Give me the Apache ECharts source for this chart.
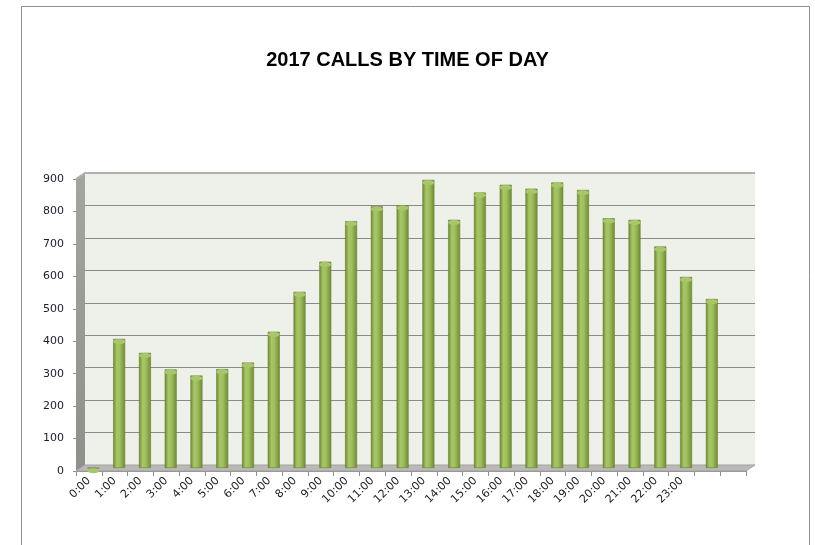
<!DOCTYPE html>
<html>
<head>
<meta charset="utf-8">
<script src="https://cdn.jsdelivr.net/npm/echarts@6/dist/echarts.min.js"></script>
<style>
  html, body { margin: 0; padding: 0; background: #fff; }
  #chart { width: 815px; height: 545px; }
</style>
</head>
<body>
<div id="chart"></div>
<script>
// data (26 slots, the last two have no label)
const hours = ['0:00', '1:00', '2:00', '3:00', '4:00', '5:00', '6:00', '7:00', '8:00', '9:00',
    '10:00', '11:00', '12:00', '13:00', '14:00', '15:00', '16:00', '17:00', '18:00', '19:00',
    '20:00', '21:00', '22:00', '23:00', '', '']
const calls = [0, 398, 355, 304, 285, 305, 325, 420, 543, 636,
    761, 807, 810, 888, 765, 849, 873, 861, 880, 857,
    770, 765, 683, 589, 521, null]
const yTicks = [0, 100, 200, 300, 400, 500, 600, 700, 800, 900]

const yMin = yTicks[0], yMax = yTicks[yTicks.length - 1], yStep = yTicks[1] - yTicks[0]

// fake 3d: back wall, bars in the middle, front edge for labels
const back = {left: 85, top: 173, width: 670, height: 292}
const mid = {left: 80.5, top: 176, width: 670, height: 292}
const front = {left: 76, top: 179, width: 670, height: 292}

const chart = echarts.init(document.getElementById('chart'))

function valAxis(idx, extra) {
    return Object.assign({
        type: 'value', gridIndex: idx, min: yMin, max: yMax, interval: yStep,
        axisLine: {show: false}, axisTick: {show: false}, axisLabel: {show: false},
        splitLine: {show: false}
    }, extra)
}
function catAxis(idx, extra) {
    return Object.assign({
        type: 'category', gridIndex: idx, data: hours,
        axisLine: {show: false}, axisTick: {show: false}, axisLabel: {show: false}
    }, extra)
}

const barGreen = new echarts.graphic.LinearGradient(0, 0, 1, 0, [
    {offset: 0, color: '#6b8531'},
    {offset: 0.3, color: '#a6c766'},
    {offset: 0.55, color: '#a0c05d'},
    {offset: 1, color: '#6e8a34'}
])

const fb = front.top + front.height, bb = back.top + back.height
const option = {
    animation: false,
    title: {
        text: '2017 CALLS BY TIME OF DAY',
        left: 'center', top: 45,
        textStyle: {fontFamily: 'Liberation Sans', fontWeight: 'bold', fontSize: 20, color: '#000'}
    },
    grid: [
        Object.assign({show: true, backgroundColor: '#eef0ea', borderWidth: 0}, back),
        mid,
        front
    ],
    xAxis: [
        catAxis(0),
        catAxis(1),
        catAxis(2, {
            axisLine: {show: true, lineStyle: {color: '#8c8c8c'}},
            axisTick: {show: true, interval: 0, length: 5, lineStyle: {color: '#8c8c8c'}},
            axisLabel: {show: true, interval: 0, rotate: 45, margin: 8,
                fontFamily: 'DejaVu Sans', fontSize: 11, color: '#222'}
        })
    ],
    yAxis: [
        valAxis(0, {splitLine: {show: true, lineStyle: {color: '#8a8a8a', width: 1}}}),
        valAxis(1),
        valAxis(2, {
            axisLine: {show: true, lineStyle: {color: '#8c8c8c'}},
            axisTick: {show: true, length: 3, lineStyle: {color: '#8c8c8c'}},
            axisLabel: {show: true, margin: 12, fontFamily: 'DejaVu Sans', fontSize: 11, color: '#1c1c2c'}
        })
    ],
    graphic: [
        // outer frame
        {type: 'rect', shape: {x: 21.5, y: 6.5, width: 788, height: 560},
            style: {fill: null, stroke: '#8f8f8f', lineWidth: 1}, z: 0},
        // left side wall
        {type: 'polygon', z: 1,
            shape: {points: [[front.left, front.top], [back.left, back.top], [back.left, bb], [front.left, fb]]},
            style: {fill: new echarts.graphic.LinearGradient(0, 0, 0, 1, [
                {offset: 0, color: '#a3a59f'}, {offset: 1, color: '#8e908b'}])}},
        // floor
        {type: 'polygon', z: 1,
            shape: {points: [[front.left, fb], [back.left, bb], [back.left + back.width, bb], [front.left + front.width, fb]]},
            style: {fill: '#b9bab6', stroke: '#a3a3a3', lineWidth: 1}},
        // top edge of the back wall
        {type: 'polyline', z: 1,
            shape: {points: [[front.left, front.top], [back.left, back.top], [back.left + back.width, back.top]]},
            style: {stroke: '#b0b0b0', lineWidth: 2}}
    ],
    series: [
        {
            type: 'bar', xAxisIndex: 1, yAxisIndex: 1, data: calls, barWidth: 12, z: 3,
            itemStyle: {color: barGreen, borderColor: '#6a8430', borderWidth: 0.6}
        },
        {
            // round cap on top of each cylinder
            type: 'pictorialBar', xAxisIndex: 1, yAxisIndex: 1, data: calls, z: 4,
            symbol: 'circle', symbolSize: [12, 5], symbolPosition: 'end',
            itemStyle: {color: '#a8c76a', borderColor: '#6f8a35', borderWidth: 0.8}
        }
    ]
}
chart.setOption(option)
</script>
</body>
</html>
